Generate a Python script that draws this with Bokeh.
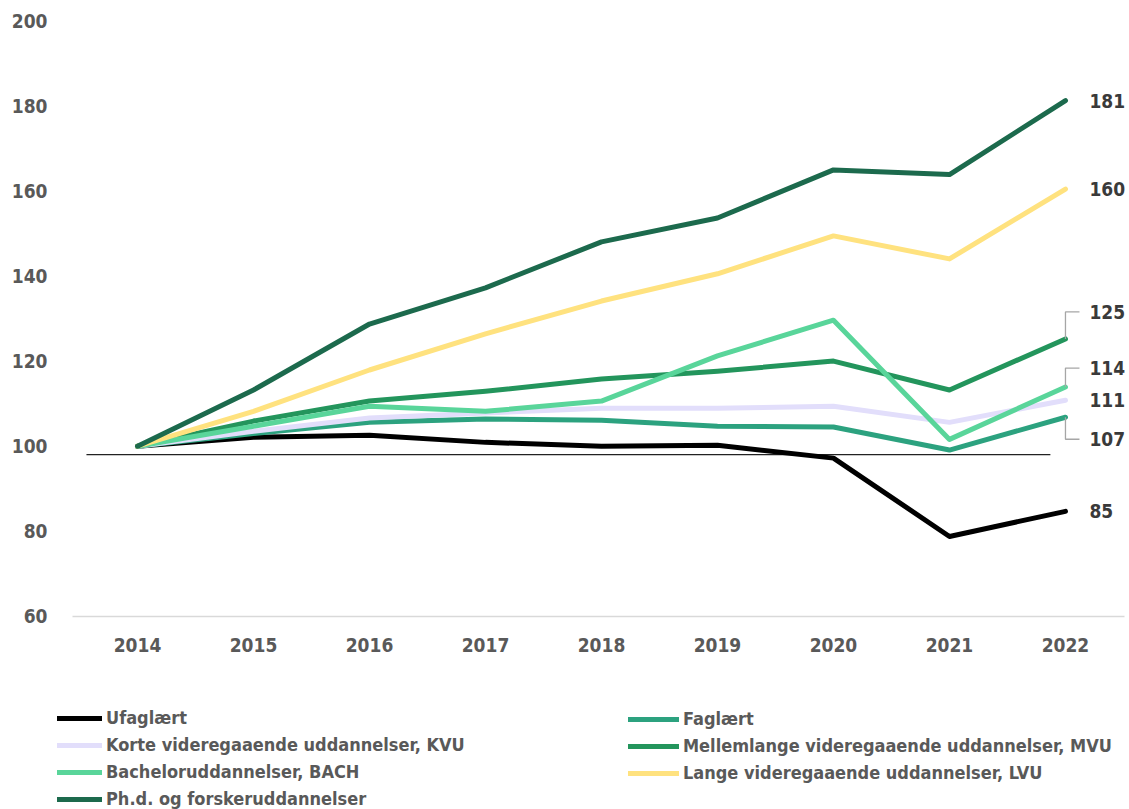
from bokeh.plotting import figure
from bokeh.models import ColumnDataSource, Legend, LegendItem, FixedTicker, Range1d
from bokeh.core.properties import value
from bokeh.embed import file_html
from bokeh.resources import INLINE

years = [2014, 2015, 2016, 2017, 2018, 2019, 2020, 2021, 2022]

ufaglaert = [100, 102.1, 102.6, 100.9, 100.0, 100.2, 97.2, 78.8, 84.7]
faglaert = [100, 103.0, 105.6, 106.4, 106.1, 104.7, 104.5, 99.1, 106.8]
kvu = [100, 103.5, 106.6, 107.8, 108.9, 108.9, 109.4, 105.6, 110.8]
mvu = [100, 105.9, 110.6, 112.9, 115.8, 117.6, 120.0, 113.2, 125.2]
bach = [100, 104.7, 109.4, 108.2, 110.6, 121.2, 129.6, 101.6, 113.9]
lvu = [100, 108.2, 117.9, 126.4, 134.1, 140.5, 149.4, 144.0, 160.4]
phd = [100, 113.2, 128.7, 137.2, 148.0, 153.6, 164.9, 163.8, 181.2]

names = [
    "Ufaglært",
    "Faglært",
    "Korte videregaaende uddannelser, KVU",
    "Mellemlange videregaaende uddannelser, MVU",
    "Bacheloruddannelser, BACH",
    "Lange videregaaende uddannelser, LVU",
    "Ph.d. og forskeruddannelser",
]
series = [ufaglaert, faglaert, kvu, mvu, bach, lvu, phd]
colors = ["#000000", "#2CA27F", "#E2DEFB", "#23955C", "#59D59A", "#FFE27F", "#1C6A4D"]

y_ticks = [60, 80, 100, 120, 140, 160, 180, 200]
axis_base = 60
ref_level = 98

# label vertical offsets (screen px) for end labels
label_offsets = [0, 22, 0, -27, -19, 0, 0]

FONT = "'DejaVu Sans Condensed', 'Liberation Sans Narrow', 'Roboto', sans-serif"
TICK_COLOR = "#595959"

W, H = 1129, 809
X0, X1 = 2013.2931, 2022.552
p = figure(width=W, height=H, output_backend="svg", toolbar_location=None,
           x_range=Range1d(X0, X1), y_range=Range1d(14.66, 200),
           min_border_left=55, min_border_right=0, min_border_top=20,
           min_border_bottom=0)
p.outline_line_color = None
p.xgrid.grid_line_color = None
p.ygrid.grid_line_color = None
p.background_fill_color = "white"
p.border_fill_color = "white"
p.xaxis.visible = False

p.yaxis.ticker = FixedTicker(ticks=y_ticks)
p.yaxis.axis_line_color = None
p.yaxis.major_tick_line_color = None
p.yaxis.minor_tick_line_color = None
p.yaxis.major_label_standoff = 2
p.yaxis.major_label_text_font = FONT
p.yaxis.major_label_text_font_style = "bold"
p.yaxis.major_label_text_font_size = "19px"
p.yaxis.major_label_text_color = TICK_COLOR

# category axis line and year labels
p.segment(x0=[2013.4397], y0=[axis_base], x1=[2022.509], y1=[axis_base], line_color="#D9D9D9", line_width=1.5)
p.text(x=years, y=[axis_base] * len(years), text=[str(y) for y in years], y_offset=29,
       text_font=value(FONT), text_font_style="bold", text_font_size="19px",
       text_color=TICK_COLOR, text_align="center", text_baseline="middle")

# reference line
p.segment(x0=[2013.56], y0=[ref_level], x1=[2021.87], y1=[ref_level], line_color="#222222", line_width=1.2)

renderers = []
for name, vals, col in zip(names, series, colors):
    r = p.line(years, vals, line_color=col, line_width=5, line_cap="round", line_join="round")
    renderers.append(r)

# end labels
last_vals = [s[-1] for s in series]
lab_src = ColumnDataSource(dict(
    x=[years[-1]] * len(series),
    y=last_vals,
    text=[str(int(round(v))) for v in last_vals],
    yo=label_offsets,
))
p.text(x="x", y="y", text="text", source=lab_src, x_offset=24, y_offset="yo",
       text_font=value(FONT), text_font_style="bold", text_font_size="19px",
       text_color="#3A3A3A", text_align="left", text_baseline="middle")

# leader lines for offset labels
ppu_y = 596 / 140.0
ppu_x = 116.0
xs, ys = [], []
for v, off in zip(last_vals, label_offsets):
    if off != 0:
        ny = v - off / ppu_y
        xs.append([years[-1], years[-1], years[-1] + 14 / ppu_x])
        ys.append([v, ny, ny])
p.multi_line(xs, ys, line_color="#A6A6A6", line_width=1.3)

# legends (two columns)
col1 = [0, 2, 4, 6]
col2 = [1, 3, 5]

def make_legend(idx, loc, gw):
    leg = Legend(items=[LegendItem(label=names[i], renderers=[renderers[i]]) for i in idx],
                 location=loc, orientation="vertical")
    leg.border_line_color = None
    leg.background_fill_alpha = 0
    leg.padding = 0
    leg.margin = 0
    leg.spacing = 6
    leg.glyph_width = gw
    leg.glyph_height = 20
    leg.label_height = 20
    leg.label_standoff = 4
    leg.label_text_font = FONT
    leg.label_text_font_style = "bold"
    leg.label_text_font_size = "18px"
    leg.label_text_color = TICK_COLOR
    leg.label_text_baseline = "middle"
    return leg

p.add_layout(make_legend(col1, (2, 0), 45))
p.add_layout(make_legend(col2, (573, 26), 51))

open("out.html", "w").write(file_html(p, INLINE))
